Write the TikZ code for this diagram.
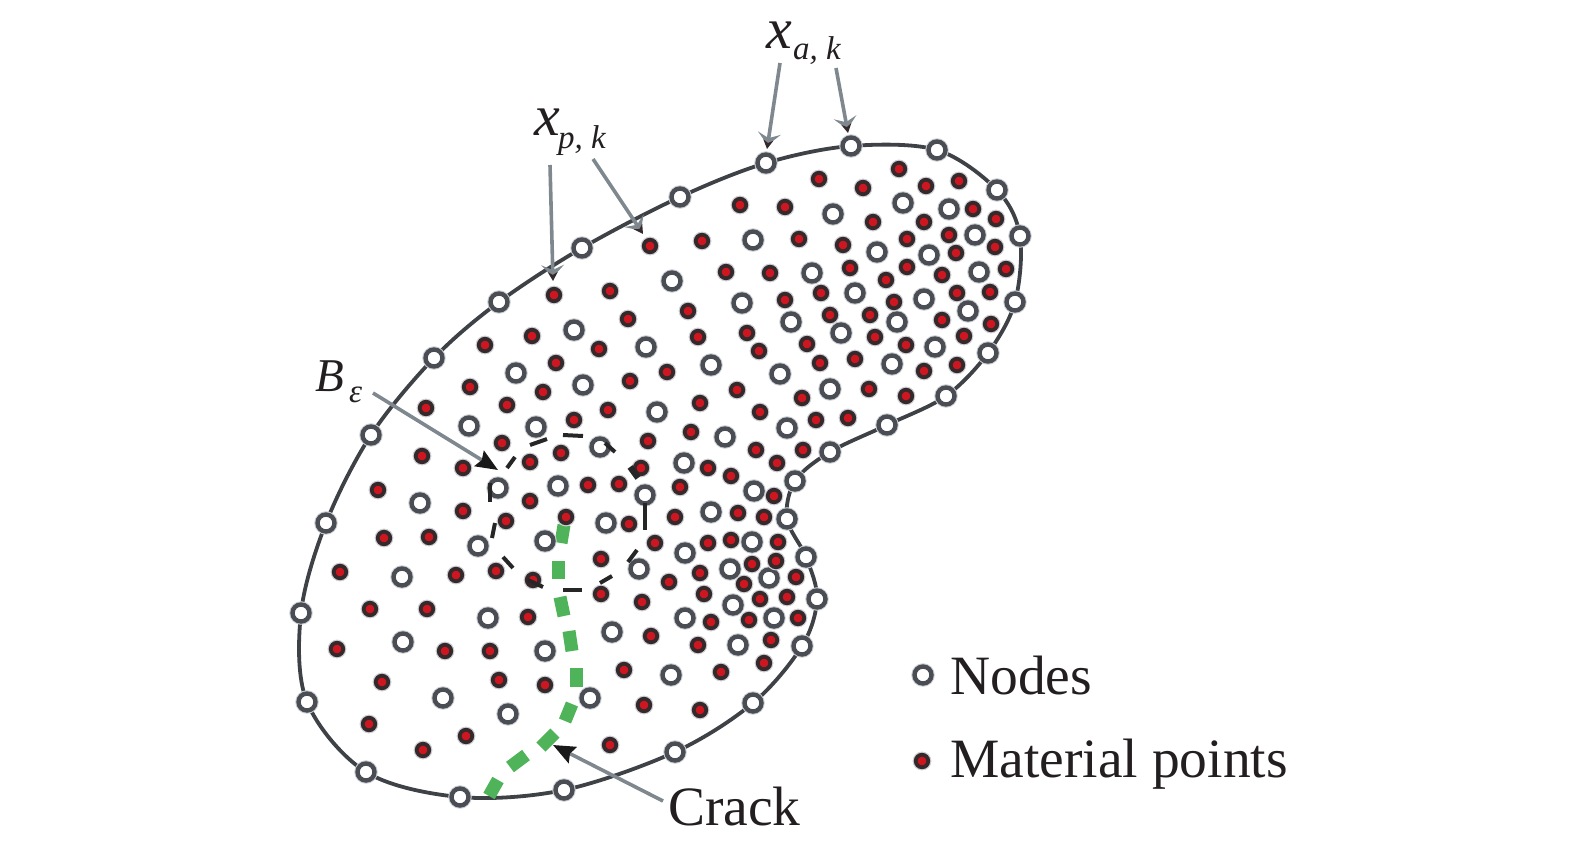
\documentclass[tikz,border=0pt]{standalone}
\usepackage{fontspec}
\setmainfont{Liberation Serif}
\usetikzlibrary{arrows.meta}
\definecolor{ringc}{HTML}{4A4E54}
\definecolor{haloc}{HTML}{CDD0D4}
\definecolor{redc}{HTML}{CE1620}
\definecolor{darkc}{HTML}{35292B}
\definecolor{linec}{HTML}{3E4146}
\definecolor{arrowc}{HTML}{7F888F}
\definecolor{crackc}{HTML}{4FB35A}
\definecolor{textc}{HTML}{231F20}
\tikzset{
  openpt/.style={circle,inner sep=0pt,minimum size=17pt,draw=ringc,line width=4.4pt,fill=white,
    preaction={draw=haloc,line width=6.4pt}},
  matpt/.style={circle,inner sep=0pt,minimum size=12.5pt,draw=darkc,line width=3.8pt,fill=redc,
    preaction={draw=haloc,line width=6.2pt}},
  outline/.style={draw=linec,line width=3.8pt,line join=round},
  ringdash/.style={draw=black!85,line width=4pt},
  crackdash/.style={draw=crackc,line width=13pt},
  greyarrow/.style={draw=arrowc,line width=3.6pt,
    -{Stealth[length=12pt,width=23pt,inset=5pt,color=arrowc,sep=-5pt]Stealth[length=9pt,width=10pt,color=darkc]}},
  darkarrow/.style={draw=arrowc,line width=3.6pt,-{Stealth[length=22pt,width=18pt,inset=3pt,color=black!90]}},
  lab/.style={inner sep=0pt,anchor=base west,text=textc},
  bigfont/.style={font=\fontsize{55.5}{60}\selectfont},
  mathfont/.style={font=\fontsize{58}{62}\selectfont\itshape},
  subfont/.style={font=\fontsize{33}{38}\selectfont\itshape},
}
\begin{document}
\begin{tikzpicture}[x=1pt,y=-1pt]
\useasboundingbox (0,0) rectangle (1575,846);
% boundary curve
\draw[outline] plot[smooth cycle,tension=0.55] coordinates {
(766,163)(851,146)(937,150)(997,190)(1020,236)(1015,302)(988,353)(946,396)(887,425)(830,452)(795,481)(787,519)(806,557)(817,599)(802,646)(753,703)(675,752)(564,790)(460,797)(366,772)(307,702)(301,613)(326,523)(371,435)(434,358)(499,302)(582,248)(680,197)};
% crack
\foreach \ax/\ay/\bx/\by [count=\i] in {564/525/561/543,558/561/558/579,560/597/564/616,569/631/572/651,576/668/576/687,572/704/565/721,555/733/541/747,526/755/510/767,498/780/489/796}
  \draw[crackdash] (\ax,\ay) -- (\bx,\by);
% boundary nodes
\foreach \x/\y [count=\i] in {766/163,851/146,937/150,997/190,1020/236,1015/302,988/353,946/396,887/425,830/452,795/481,787/519,806/557,817/599,802/646,753/703,675/752,564/790,460/797,366/772,307/702,301/613,326/523,371/435,434/358,499/302,582/248,680/197}
  \node[openpt] (b\i) at (\x,\y) {};
% interior nodes
\foreach \x/\y [count=\i] in {903/203,833/214,949/209,753/240,975/235,877/252,929/255,812/273,979/272,855/293,924/299,742/303,791/322,968/311,897/322,841/333,935/347,892/364,780/374,830/389,787/428,672/281,574/330,646/347,711/365,516/373,583/385,657/412,469/426,536/427,725/437,600/447,684/463,558/486,645/495,754/491,498/488,711/512,606/523,545/541,752/542,685/553,639/569,730/569,769/578,733/605,774/618,685/618,612/632,738/645,671/675,590/698,420/503,478/546,402/577,488/618,403/642,545/651,443/698,508/714}
  \node[openpt] (n\i) at (\x,\y) {};
% material points
\foreach \x/\y [count=\i] in {819/179,899/169,863/188,926/186,959/181,785/207,740/205,873/222,924/222,973/209,996/219,949/235,799/239,843/245,907/239,956/253,995/247,770/273,850/268,907/267,886/280,942/275,1006/269,785/300,821/293,957/293,990/292,894/302,830/315,870/315,942/320,991/324,747/333,759/351,807/344,875/337,906/345,964/336,820/363,855/359,924/371,957/365,737/390,802/398,869/389,906/396,760/412,816/420,848/418,
702/241,650/246,726/272,554/295,610/291,688/311,628/319,532/336,485/345,698/337,599/349,556/363,667/372,630/381,470/387,543/392,507/405,700/403,608/410,574/420,691/432,648/441,502/443,426/408,
756/450,803/450,561/453,777/463,641/468,708/468,731/476,588/485,619/484,680/487,774/496,566/517,629/524,675/517,738/513,764/517,655/543,708/543,731/540,778/542,601/559,752/564,776/561,700/573,796/577,669/582,744/584,601/594,704/594,760/599,787/597,642/602,711/622,749/620,798/618,651/636,771/640,698/645,764/663,721/672,624/670,644/705,700/710,610/745,
530/462,422/456,463/468,378/490,530/501,463/511,506/521,384/538,429/537,340/572,456/575,496/571,533/580,370/609,427/609,528/617,337/649,445/651,490/651,382/682,499/680,545/685,369/724,466/736,423/750}
  \node[matpt] (m\i) at (\x,\y) {};
% dashed circle
\foreach \ax/\ay/\bx/\by in {530/445/547/439,563/435/583/436,605/443/615/452,645/503/645/530,637/550/628/562,612/576/600/583,563/590/582/590,528/580/543/587,503/557/513/568,492/538/495/523,490/502/490/483,507/468/515/457}
  \draw[ringdash] (\ax,\ay) -- (\bx,\by);
\draw[ringdash,line width=6pt] (630,467) -- (638,478);
% labels
\node[lab,mathfont] (xp) at (534,135) {x};
\node[lab,subfont] (xps) at (558,148) {p, k};
\node[lab,mathfont] (xa) at (766,48) {x};
\node[lab,subfont] (xas) at (793,59) {a, k};
\node[lab,font=\fontsize{47}{52}\selectfont\itshape] (be) at (315,391) {B};
\node[lab,font=\fontsize{33}{38}\selectfont\itshape] (bes) at (349,402) {\char"03B5};
\node[lab,bigfont] (crack) at (668,825) {Crack};
\node[openpt] (lgn) at (923,675) {};
\node[matpt] (lgm) at (922,761) {};
\node[lab,bigfont] (ltn) at (950,694) {Nodes};
\node[lab,bigfont] (ltm) at (950,777) {Material points};
% arrow ends
\coordinate (s1) at (550,165); \coordinate (t1) at (553,281);
\coordinate (s2) at (593,159); \coordinate (t2) at (643,234);
\coordinate (s3) at (780,63);  \coordinate (t3) at (767,149);
\coordinate (s4) at (836,68);  \coordinate (t4) at (848,133);
\coordinate (s5) at (373,393); \coordinate (t5) at (498,470);
\coordinate (s6) at (663,801); \coordinate (t6) at (553,745);
\draw[greyarrow] (s1) -- (t1);
\draw[greyarrow] (s2) -- (t2);
\draw[greyarrow] (s3) -- (t3);
\draw[greyarrow] (s4) -- (t4);
\draw[darkarrow] (s5) -- (t5);
\draw[darkarrow] (s6) -- (t6);
\end{tikzpicture}
\end{document}
